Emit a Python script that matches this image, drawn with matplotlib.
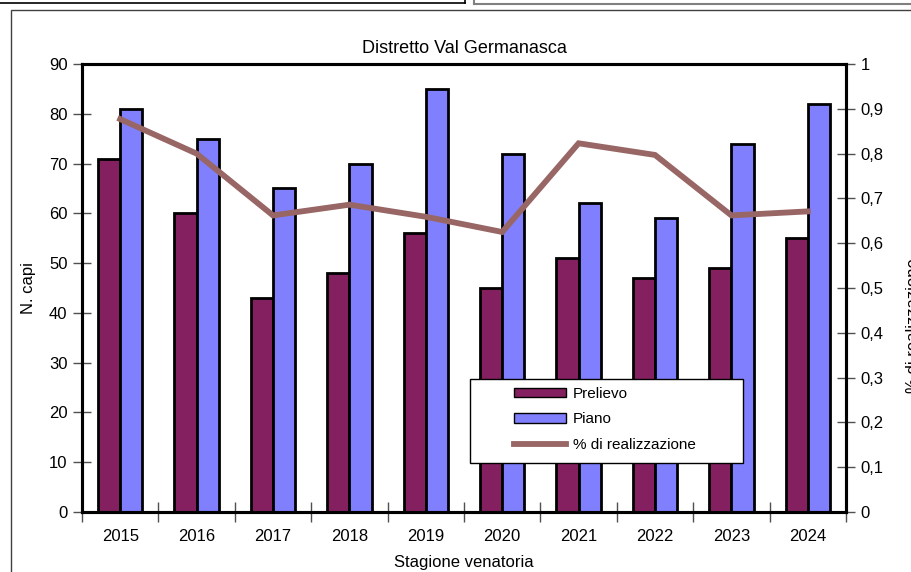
import matplotlib
matplotlib.use("Agg")
import matplotlib.pyplot as plt
from matplotlib.patches import Rectangle, Patch
from matplotlib.lines import Line2D
from matplotlib.ticker import FixedLocator, FuncFormatter

plt.rcParams['font.family'] = ['Liberation Sans', 'DejaVu Sans']

# dati
stagioni = ['2015', '2016', '2017', '2018', '2019', '2020', '2021', '2022', '2023', '2024']
prelievo = [71, 60, 43, 48, 56, 45, 51, 47, 49, 55]
piano = [81, 75, 65, 70, 85, 72, 62, 59, 74, 82]
realizzazione = [0.877, 0.80, 0.662, 0.686, 0.659, 0.625, 0.823, 0.797, 0.662, 0.671]

col_prel = '#842060'
col_piano = '#8080FF'
col_linea = '#996666'

W, H = 912, 572
fig = plt.figure(figsize=(W / 100, H / 100), dpi=100)

def px(x0, y0, x1, y1):
    # pixel box (top-left origin) -> figure fraction
    return [x0 / W, 1 - y1 / H, (x1 - x0) / W, (y1 - y0) / H]

# cornici dello screenshot
fig.add_artist(Line2D([0, 465 / W], [1 - 2.5 / H, 1 - 2.5 / H], color='black', lw=1.2))
fig.add_artist(Line2D([465 / W, 465 / W], [1, 1 - 2.5 / H], color='black', lw=1.2))
fig.add_artist(Line2D([474 / W, 1], [1 - 4 / H, 1 - 4 / H], color='#808080', lw=1.5))
fig.add_artist(Line2D([474 / W, 474 / W], [1, 1 - 4 / H], color='#808080', lw=1.5))
fig.add_artist(Rectangle((11 / W, -0.1), 1.2, 1.1 - 10 / H, transform=fig.transFigure,
                         fill=False, edgecolor='#404040', lw=1.0))

fs = 12
ax = fig.add_axes(px(82, 64, 846, 512))
x = list(range(len(stagioni)))
w = 0.29
ax.bar([i - w / 2 for i in x], prelievo, w, color=col_prel, edgecolor='black', linewidth=2, zorder=2)
ax.bar([i + w / 2 for i in x], piano, w, color=col_piano, edgecolor='black', linewidth=2, zorder=2)
ax.set_xlim(-0.5, len(stagioni) - 0.5)
ax.set_ylim(0, 90)
ax.set_yticks(range(0, 91, 10))

ax.xaxis.set_major_locator(FixedLocator([i - 0.5 for i in range(len(stagioni) + 1)]))
ax.xaxis.set_major_formatter(FuncFormatter(lambda v, p: ''))
ax.xaxis.set_minor_locator(FixedLocator(x))
ax.set_xticklabels(stagioni, minor=True)
ax.tick_params(axis='x', which='major', direction='inout', length=15, width=1, color='#505050')
ax.tick_params(axis='x', which='minor', length=0, pad=12, labelsize=fs)
ax.tick_params(axis='y', direction='inout', length=13, width=1, color='#505050', pad=4, labelsize=fs)

for s in ax.spines.values():
    s.set_linewidth(2.2)

ax.set_xlabel('Stagione venatoria', fontsize=fs, labelpad=8)
ax.set_ylabel('N. capi', fontsize=fs, labelpad=9)
ax.set_title('Distretto Val Germanasca', fontsize=13, pad=8)

ax2 = ax.twinx()
ax2.plot(x, realizzazione, color=col_linea, linewidth=4.2, solid_joinstyle='miter', zorder=3)
ax2.set_ylim(0, 1)
ax2.set_yticks([i / 10 for i in range(11)])
ax2.yaxis.set_major_formatter(FuncFormatter(lambda v, p: ('%g' % round(v, 1)).replace('.', ',')))
ax2.tick_params(axis='y', direction='inout', length=13, width=1, color='#505050', pad=4, labelsize=fs)
for s in ax2.spines.values():
    s.set_linewidth(2.2)

fig.text(906 / W, 1 - 393 / H, '% di realizzazione', rotation=90, ha='left', va='bottom', fontsize=fs)

# riquadro legenda
box = Rectangle((470 / W, 1 - 463 / H), 273 / W, 84 / H, transform=fig.transFigure,
                facecolor='white', edgecolor='black', lw=1, zorder=4, clip_on=False)
ax2.add_patch(box)

handles = [Patch(facecolor=col_prel, edgecolor='black', linewidth=1),
           Patch(facecolor=col_piano, edgecolor='black', linewidth=1),
           Line2D([], [], color=col_linea, linewidth=4.2)]
leg = ax2.legend(handles, ['Prelievo', 'Piano', '% di realizzazione'],
                 loc='upper left', bbox_to_anchor=(514 / W, 1 - 387 / H),
                 bbox_transform=fig.transFigure,
                 fontsize=11, frameon=False, borderaxespad=0, borderpad=0,
                 handlelength=3.4, handleheight=0.6, labelspacing=0.75,
                 handletextpad=0.45)
leg.set_zorder(5)

fig.savefig('out.png', dpi=100)
